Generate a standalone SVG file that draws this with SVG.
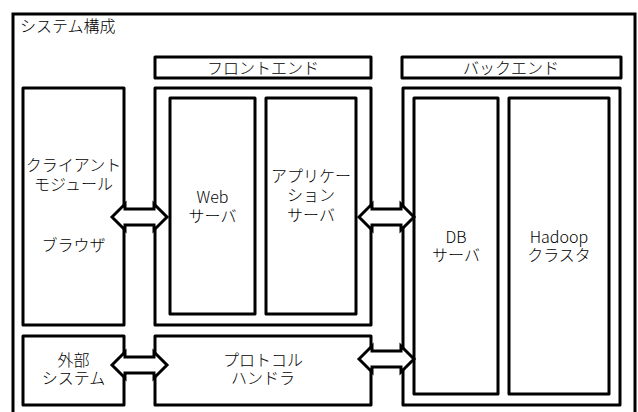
<svg xmlns="http://www.w3.org/2000/svg" width="638" height="412" viewBox="0 0 638 412">
<style>
.box{fill:#fff;stroke:#000;stroke-width:3;stroke-linejoin:round}
.frame{fill:none;stroke:#000;stroke-width:3}
.t{font-family:"Noto Sans CJK JP","Noto Sans",sans-serif;font-size:16px;font-weight:300;fill:#000;text-anchor:middle}
.tl{font-family:"Noto Sans CJK JP","Noto Sans",sans-serif;font-size:16px;font-weight:300;fill:#000}
.arr{fill:#fff;stroke:#000;stroke-width:3;stroke-linejoin:miter}
</style>
<defs>
<path id="dbl" d="M0,0 L13,-13 L13,-8 L42,-8 L42,-13 L55,0 L42,13 L42,8 L13,8 L13,13 Z"/>
</defs>
<rect width="638" height="412" fill="#fff"/>
<g id="system">
<rect class="frame" x="13" y="14" width="622" height="420"/>
<text class="tl" x="20" y="32">システム構成</text>
</g>
<g id="frontend-label">
<rect class="box" x="155" y="57" width="216" height="21"/>
<text class="t" x="263" y="74">フロントエンド</text>
</g>
<g id="backend-label">
<rect class="box" x="402" y="57" width="219" height="21"/>
<text class="t" x="511" y="74">バックエンド</text>
</g>
<g id="client">
<rect class="box" x="23" y="88" width="101" height="237"/>
<text class="t" x="73.5" y="171">クライアント</text>
<text class="t" x="73.5" y="190">モジュール</text>
<text class="t" x="73.5" y="251">ブラウザ</text>
</g>
<g id="frontend">
<rect class="box" x="155" y="88" width="216" height="237"/>
</g>
<g id="web">
<rect class="box" x="170" y="98" width="85" height="216"/>
<text class="t" x="212.5" y="203">Web</text>
<text class="t" x="212.5" y="222">サーバ</text>
</g>
<g id="app">
<rect class="box" x="266" y="98" width="90" height="216"/>
<text class="t" x="311" y="182">アプリケー</text>
<text class="t" x="311" y="201">ション</text>
<text class="t" x="311" y="221">サーバ</text>
</g>
<g id="backend">
<rect class="box" x="403" y="88" width="217" height="317"/>
</g>
<g id="db">
<rect class="box" x="414" y="98" width="84" height="296"/>
<text class="t" x="456" y="243">DB</text>
<text class="t" x="456" y="261">サーバ</text>
</g>
<g id="hadoop">
<rect class="box" x="509" y="98" width="100" height="296"/>
<text class="t" x="559" y="243">Hadoop</text>
<text class="t" x="559" y="261">クラスタ</text>
</g>
<g id="external">
<rect class="box" x="23" y="336" width="101" height="69"/>
<text class="t" x="73.5" y="366">外部</text>
<text class="t" x="73.5" y="384">システム</text>
</g>
<g id="protocol">
<rect class="box" x="155" y="336" width="216" height="69"/>
<text class="t" x="263" y="366">プロトコル</text>
<text class="t" x="263" y="384">ハンドラ</text>
</g>
<g id="connectors">
<use href="#dbl" class="arr" transform="translate(112,217)"/>
<use href="#dbl" class="arr" transform="translate(359,217)"/>
<use href="#dbl" class="arr" transform="translate(112,365)"/>
<use href="#dbl" class="arr" transform="translate(359,359)"/>
</g>
</svg>
